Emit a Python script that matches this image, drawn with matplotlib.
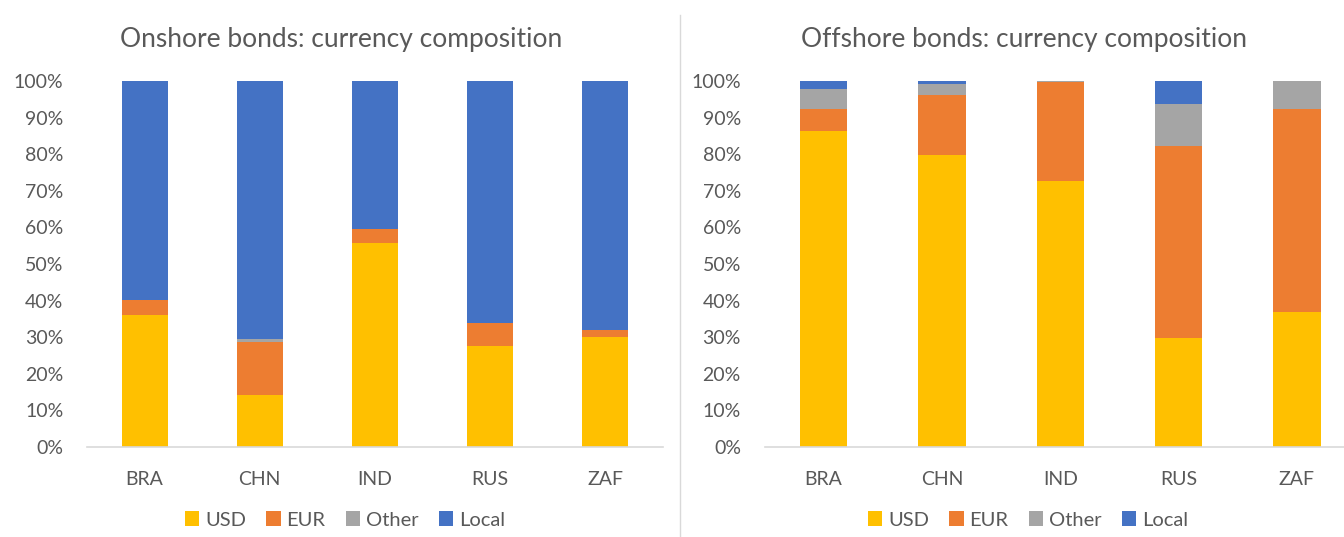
import numpy as np
import matplotlib
matplotlib.use("Agg")
import matplotlib.pyplot as plt
from matplotlib.patches import Patch
from matplotlib.lines import Line2D

plt.rcParams['font.family'] = ['Lato', 'DejaVu Sans']

countries = ['BRA', 'CHN', 'IND', 'RUS', 'ZAF']
series = ['USD', 'EUR', 'Other', 'Local']
colors = ['#FFC000', '#ED7D31', '#A5A5A5', '#4472C4']

# onshore shares (%)
on_usd = [36.1, 14.2, 55.8, 27.6, 30.1]
on_eur = [4.1, 14.6, 3.8, 6.2, 1.9]
on_other = [0.0, 0.7, 0.0, 0.0, 0.0]
on_local = [59.8, 70.5, 40.4, 66.2, 68.0]

# offshore shares (%)
off_usd = [86.3, 79.7, 72.8, 29.9, 36.8]
off_eur = [6.0, 16.5, 26.9, 52.4, 55.5]
off_other = [5.4, 3.1, 0.3, 11.4, 7.7]
off_local = [2.3, 0.7, 0.0, 6.3, 0.0]

txt = '#595959'

fig = plt.figure(figsize=(13.44, 5.37), dpi=100)
ax1 = fig.add_axes([87 / 1344, 90 / 537, 576 / 1344, 366 / 537])
ax2 = fig.add_axes([764.5 / 1344, 90 / 537, 591.5 / 1344, 366 / 537])


def draw(ax, data, title, tx):
    x = np.arange(len(countries))
    bottom = np.zeros(len(countries))
    for vals, c in zip(data, colors):
        v = np.array(vals) / 100
        ax.bar(x, v, 0.4, bottom=bottom, color=c, edgecolor='none')
        bottom += v
    ax.set_xlim(-0.5, 4.5)
    ax.set_ylim(0, 1.0)
    ax.set_yticks(np.arange(0, 1.01, 0.1))
    ax.set_yticklabels(['%d%%' % (t * 10) for t in range(11)])
    ax.set_xticks(x)
    ax.set_xticklabels(countries)
    ax.tick_params(axis='y', length=0, pad=17, labelsize=14, labelcolor=txt)
    ax.tick_params(axis='x', length=0, pad=17, labelsize=14, labelcolor=txt)
    for s in ['left', 'right', 'top']:
        ax.spines[s].set_visible(False)
    ax.spines['bottom'].set_color('#D9D9D9')
    ax.spines['bottom'].set_linewidth(1.2)
    fig.text(tx, 1 - 40 / 537, title, fontsize=19, color=txt, ha='center', va='center')


draw(ax1, [on_usd, on_eur, on_other, on_local], 'Onshore bonds: currency composition', 341 / 1344)
draw(ax2, [off_usd, off_eur, off_other, off_local], 'Offshore bonds: currency composition', 1024 / 1344)

handles = [Patch(facecolor=c, edgecolor='none') for c in colors]
for cx in [345 / 1344, 1028 / 1344]:
    fig.legend(handles, series, loc='center', bbox_to_anchor=(cx, 17 / 537), ncol=4,
               frameon=False, fontsize=14.5, labelcolor=txt, handlelength=0.7,
               handleheight=0.7, handletextpad=0.3, columnspacing=1.0)

# divider between the two charts
fig.add_artist(Line2D([680 / 1344, 680 / 1344], [0, 522 / 537], color='#D9D9D9', lw=1))

fig.savefig('out.png', dpi=100)
